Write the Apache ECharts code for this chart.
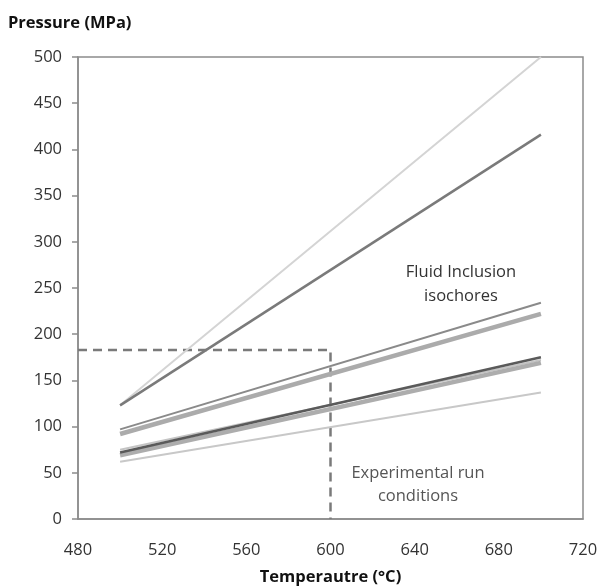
<!DOCTYPE html>
<html>
<head>
<meta charset="utf-8">
<script src="https://cdn.jsdelivr.net/npm/echarts@6/dist/echarts.min.js"></script>
<style>html,body{margin:0;padding:0;background:#fff;}#c{width:600px;height:586px;}</style>
</head>
<body>
<div id="c"></div>
<script>
// Data
const temps = [500, 700];
const isoLightSteep = [123, 500];
const isoDarkSteep = [123, 416];
const isoUpperThin = [97, 234];
const isoUpperThick = [92, 222];
const isoLowerLight = [75, 172];
const isoLowerDark = [72, 175];
const isoLowerThick = [69, 169];
const isoLowest = [62, 137];
const runTemp = 600;
const runPressure = 183;
const xTicks = [480, 520, 560, 600, 640, 680, 720];
const yTicks = [0, 50, 100, 150, 200, 250, 300, 350, 400, 450, 500];

const FONT = '"Open Sans", "Liberation Sans", sans-serif';
function pts(vals){ return temps.map((t,i)=>[t, vals[i]]); }
function line(name, vals, color, width){
  return {name, type:'line', data:pts(vals), symbol:'none', silent:true,
    lineStyle:{color, width}, z:3};
}
const chart = echarts.init(document.getElementById('c'));
chart.setOption({
  animation:false,
  grid:{left:78, right:17, top:57, bottom:67, show:true, borderColor:'#8c8c8c', borderWidth:1.5,
    containLabel:false, outerBoundsMode:'none'},
  xAxis:{type:'value', min:xTicks[0], max:xTicks[xTicks.length-1], interval:40,
    axisLine:{lineStyle:{color:'#8c8c8c', width:1.5}}, axisTick:{show:false},
    splitLine:{show:false},
    axisLabel:{color:'#333', fontSize:16.5, fontFamily:FONT, margin:23},
    name:'Temperautre (°C)', nameLocation:'middle', nameGap:50,
    nameTextStyle:{color:'#111', fontSize:16.5, fontWeight:'bold', fontFamily:FONT}},
  yAxis:{type:'value', min:yTicks[0], max:yTicks[yTicks.length-1], interval:50,
    axisLine:{show:true, lineStyle:{color:'#8c8c8c', width:1.5}},
    axisTick:{show:true, length:6, lineStyle:{color:'#8c8c8c', width:1.5}},
    splitLine:{show:false},
    axisLabel:{color:'#333', fontSize:16.5, fontFamily:FONT, margin:16}},
  graphic:[
    {type:'text', left:8, top:15, style:{text:'Pressure (MPa)', fill:'#111', font:'bold 16.5px '+FONT}},
    {type:'text', x:461, y:284, style:{text:'Fluid Inclusion\nisochores', fill:'#333', font:'16.5px '+FONT, align:'center', verticalAlign:'middle', lineHeight:24}},
    {type:'text', x:418, y:485, style:{text:'Experimental run\nconditions', fill:'#555', font:'16.5px '+FONT, align:'center', verticalAlign:'middle', lineHeight:23}}
  ],
  series:[
    line('a', isoLightSteep, '#d4d4d4', 2),
    line('b', isoDarkSteep, '#7a7a7a', 2.5),
    line('c', isoUpperThin, '#8a8a8a', 2),
    line('d', isoUpperThick, '#ababab', 4.5),
    line('e', isoLowerLight, '#c4c4c4', 2),
    line('g', isoLowerThick, '#adadad', 4.5),
    line('f', isoLowerDark, '#5a5a5a', 2.5),
    line('h', isoLowest, '#c8c8c8', 2),
    {name:'run', type:'line', symbol:'none', silent:true, z:2,
      data:[[xTicks[0], runPressure],[runTemp, runPressure],[runTemp, yTicks[0]]],
      lineStyle:{color:'#7a7a7a', width:2.5, type:[9,6]}}
  ]
});
</script>
</body>
</html>
